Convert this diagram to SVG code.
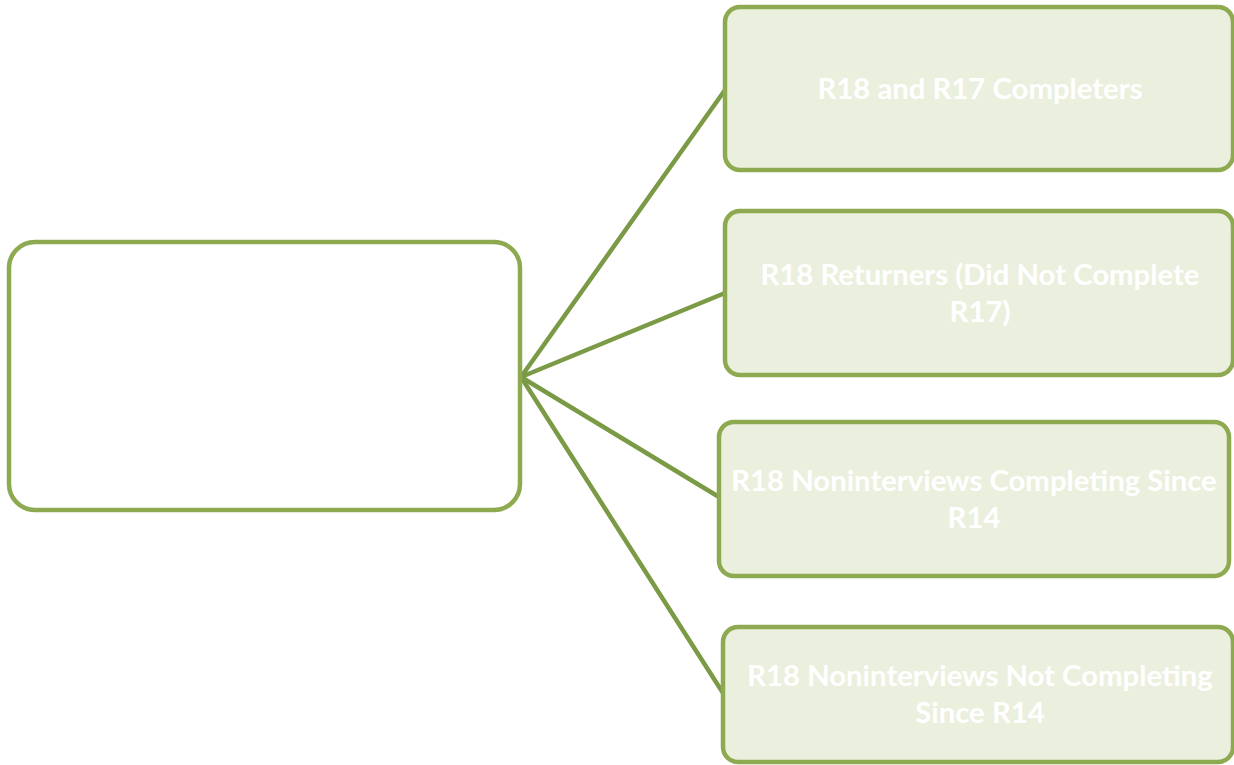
<svg xmlns="http://www.w3.org/2000/svg" width="1234" height="765" viewBox="0 0 1234 765">
<style>
.box{fill:#ebf0de;stroke:#8eaa50;stroke-width:4.5}
.root{fill:#ffffff;stroke:#8eaa50;stroke-width:4.5}
.lbl{font-family:Lato,"Liberation Sans",sans-serif;font-weight:bold;font-size:29.3px;fill:#ffffff;text-anchor:middle}
.conn line{stroke:#7b9a45;stroke-width:4.5;stroke-linecap:round}
</style>
<rect width="1234" height="765" fill="#ffffff"/>
<g id="connectors" class="conn">
<line x1="521" y1="377" x2="725" y2="90"/>
<line x1="521" y1="377" x2="725" y2="293"/>
<line x1="521" y1="377" x2="719" y2="497"/>
<line x1="521" y1="377" x2="723" y2="693"/>
</g>
<g id="root"><rect class="root" x="9" y="242" width="511" height="268" rx="26"/></g>
<g id="n1"><rect class="box" x="725" y="7" width="508" height="163" rx="15"/>
<text class="lbl" x="980" y="99">R18 and R17 Completers</text></g>
<g id="n2"><rect class="box" x="725" y="211" width="508" height="164" rx="15"/>
<text class="lbl" x="980" y="285">R18 Returners (Did Not Complete</text>
<text class="lbl" x="980" y="322">R17)</text></g>
<g id="n3"><rect class="box" x="719" y="422" width="510" height="154" rx="15"/>
<text class="lbl" x="974" y="491">R18 Noninterviews Completing Since</text>
<text class="lbl" x="974" y="528">R14</text></g>
<g id="n4"><rect class="box" x="723" y="627" width="510" height="135" rx="15"/>
<text class="lbl" x="980" y="686">R18 Noninterviews Not Completing</text>
<text class="lbl" x="980" y="723">Since R14</text></g>
</svg>
